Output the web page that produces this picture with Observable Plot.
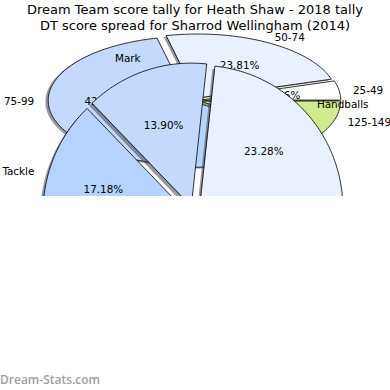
<!DOCTYPE html>
<html><head><meta charset="utf-8">
<script src="https://cdn.jsdelivr.net/npm/d3@7"></script>
<script src="https://cdn.jsdelivr.net/npm/@observablehq/plot@0.6"></script>
<style>
body{margin:0;background:#fff;}
#wrap{position:relative;width:390px;height:390px;overflow:hidden;font-family:"DejaVu Sans",sans-serif;}
#chart{position:absolute;left:0;top:0;}
#title{position:absolute;left:0;top:2px;width:390px;text-align:center;font-size:13px;line-height:16px;color:#000;z-index:2;}
#credit{position:absolute;left:0;top:371px;font-family:"Open Sans",sans-serif;font-weight:600;font-size:12px;color:#a0a0a0;}
</style></head><body>
<div id="wrap">
<div id="chart"></div>
<div id="title">Dream Team score tally for Heath Shaw - 2018 tally<br>DT score spread for Sharrod Wellingham (2014)</div>
<div id="credit">Dream-Stats.com</div>
</div>
<script>
// Front pie: Heath Shaw 2018 (share of DT score, %)
const frontCategories = ["Handballs", "Mark", "Tackle", "Kick"];
const frontPercents = [23.28, 13.90, 17.18, 45.64];
// Back pie: Sharrod Wellingham 2014 (games per DT score band)
const backCategories = ["25-49", "50-74", "75-99", "100-124", "125-149"];
const backGames = [1, 5, 9, 4, 2];

// styles
const frontColors = ["#eaf1fe", "#c5d8fd", "#b4d4ff", "#dde8fb"];
const backColors = ["#ffffff", "#eaf1fe", "#c5d8fd", "#b4d4ff", "#d1ec8e"];

// layout (pixels)
const W = 390, H = 196;
const back = {cx: 194, cy: 100, rx: 140, ry: 64, explode: 0.045};
const front = {cx: 193.4, cy: 213.2, rx: 143, ry: 143, explode: 0.056};

function layoutPie(cats, values, geo, prefix) {
  const total = d3.sum(values);
  let a = 0;
  return values.map((v, i) => {
    const a0 = a; a += v / total * 360; const a1 = a;
    const mid = (a0 + a1) / 2 * Math.PI / 180;
    const cx = geo.cx + geo.explode * geo.rx * Math.cos(mid);
    const cy = geo.cy - geo.explode * geo.ry * Math.sin(mid);
    const pts = [];
    const n = Math.max(3, Math.ceil((a1 - a0) / 1.5));
    pts.push({id: prefix + i, cat: cats[i], x: cx, y: cy});
    for (let k = 0; k <= n; k++) {
      const t = (a0 + (a1 - a0) * k / n) * Math.PI / 180;
      pts.push({id: prefix + i, cat: cats[i], x: cx + geo.rx * Math.cos(t), y: cy - geo.ry * Math.sin(t)});
    }
    const cosm = Math.cos(mid), sinm = Math.sin(mid);
    return {
      cat: cats[i],
      pct: (v / total * 100).toFixed(2) + "%",
      pts,
      shadow: pts.map(p => ({...p, x: p.x - 0.02 * geo.rx, y: p.y + 0.02 * geo.ry})),
      lx: cx + 1.1 * geo.rx * cosm, ly: cy - 1.1 * geo.ry * sinm,
      px: cx + 0.6 * geo.rx * cosm, py: cy - 0.6 * geo.ry * sinm,
      right: cosm >= 0
    };
  });
}

const backW = layoutPie(backCategories, backGames, back, "b");
const frontW = layoutPie(frontCategories, frontPercents, front, "f");

const font = {fontFamily: "DejaVu Sans", fontSize: 10.4, fill: "#000", dy: 1};
const inFrame = (x, y) => x > 0 && x < W && y > 0 && y < H;

function pieMarks(wedges) {
  const lab = wedges.filter(w => inFrame(w.lx, w.ly));
  const pct = wedges.filter(w => inFrame(w.px, w.py));
  return [
    Plot.line(wedges.flatMap(w => w.shadow), {x: "x", y: "y", z: "id", fill: "#41454d", fillOpacity: 0.55, stroke: "none", curve: "linear-closed"}),
    Plot.line(wedges.flatMap(w => w.pts), {x: "x", y: "y", z: "id", fill: "cat", stroke: "#000", strokeWidth: 0.8, curve: "linear-closed", strokeLinejoin: "miter"}),
    Plot.text(lab.filter(w => w.right), {x: "lx", y: "ly", text: "cat", textAnchor: "start", ...font}),
    Plot.text(lab.filter(w => !w.right), {x: "lx", y: "ly", text: "cat", textAnchor: "end", ...font}),
    Plot.text(pct, {x: "px", y: "py", text: "pct", textAnchor: "middle", ...font})
  ];
}

const chart = Plot.plot({
  width: W, height: H,
  margin: 0,
  x: {domain: [0, W], range: [0, W], axis: null},
  y: {domain: [0, H], range: [0, H], axis: null},
  color: {domain: [...backCategories, ...frontCategories], range: [...backColors, ...frontColors]},
  style: {background: "transparent", overflow: "hidden"},
  marks: [
    ...pieMarks(backW),
    ...pieMarks(frontW)
  ]
});
document.getElementById("chart").appendChild(chart);
</script>
</body></html>
